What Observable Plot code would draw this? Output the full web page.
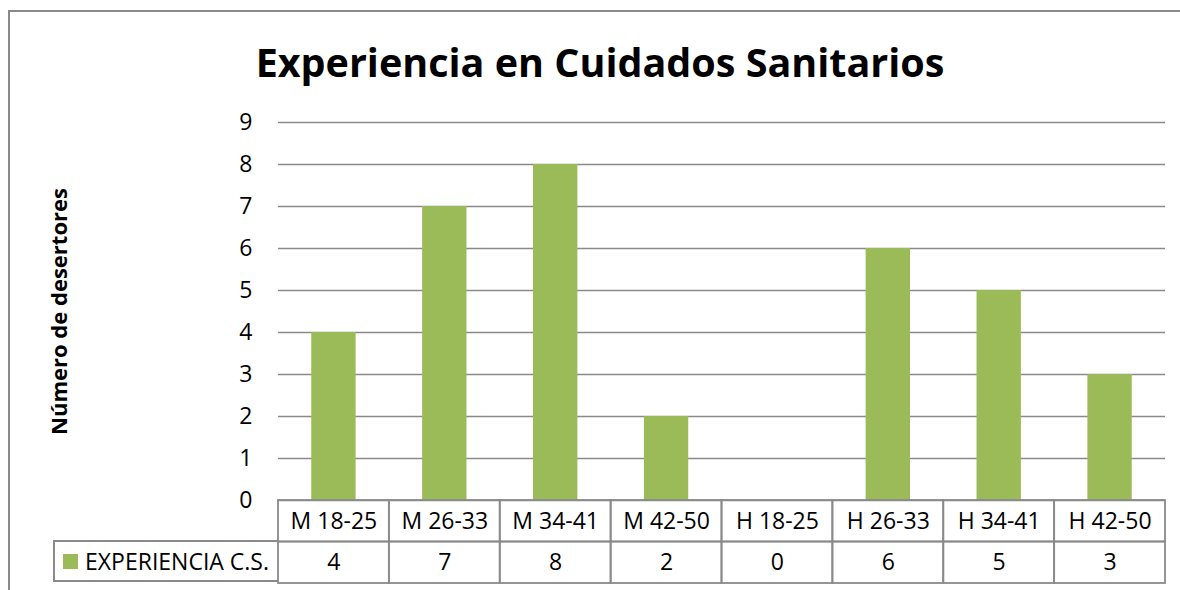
<!DOCTYPE html>
<html>
<head>
<meta charset="utf-8">
<script src="https://cdn.jsdelivr.net/npm/d3@7"></script>
<script src="https://cdn.jsdelivr.net/npm/@observablehq/plot@0.6"></script>
<style>
  html, body { margin: 0; padding: 0; background: #fff; }
  #root { position: relative; width: 1180px; height: 590px; overflow: hidden; font-family: "Open Sans", sans-serif; }
  #frame { position: absolute; left: 8px; top: 10px; width: 1200px; height: 600px; border-left: 2px solid #8a8a8a; border-top: 2px solid #8a8a8a; }
  #title { position: absolute; left: 0; width: 1200px; top: 32px; text-align: center; font-weight: 700; font-size: 39.5px; line-height: 60px; color: #000; }
  .abs { position: absolute; left: 0; }
  #legend { position: absolute; left: 53px; top: 540px; width: 225px; height: 42px; box-sizing: border-box; border: 2px solid #8a8a8a; border-right: none; display: flex; align-items: center; font-size: 23px; color: #000; }
  #legend .sw { width: 15px; height: 15px; margin-left: 8px; margin-right: 7px; }
</style>
</head>
<body>
<div id="root">
  <div id="frame"></div>
  <div id="title"></div>
  <div id="chart" class="abs" style="top:100px"></div>
  <div id="table" class="abs" style="top:499px"></div>
  <div id="legend"><div class="sw"></div><span id="legendText"></span></div>
</div>
<script>
const title = "Experiencia en Cuidados Sanitarios";
const yLabel = "Número de desertores";
const seriesName = "EXPERIENCIA C.S.";
const categories = ["M 18-25", "M 26-33", "M 34-41", "M 42-50", "H 18-25", "H 26-33", "H 34-41", "H 42-50"];
const values = [4, 7, 8, 2, 0, 6, 5, 3];
const yTicks = [0, 1, 2, 3, 4, 5, 6, 7, 8, 9];
const barColor = "#9BBB59";
const gridColor = "#8a8a8a";

const data = categories.map((c, i) => ({cat: c, value: values[i]}));

document.getElementById("title").textContent = title;
document.getElementById("legendText").textContent = seriesName;
document.querySelector("#legend .sw").style.background = barColor;

const chart = Plot.plot({
  width: 1180,
  height: 420,
  marginLeft: 278,
  marginRight: 15,
  marginTop: 22,
  marginBottom: 20,
  style: {background: "transparent", fontFamily: "Open Sans, sans-serif", fontSize: "23px", color: "#000", overflow: "visible"},
  x: {domain: categories, paddingInner: 0.6, paddingOuter: 0.3, round: false, axis: null},
  y: {domain: [0, 9], ticks: yTicks, axis: null},
  marks: [
    Plot.gridY(yTicks, {stroke: gridColor, strokeOpacity: 1, strokeWidth: 1.6}),
    Plot.axisY(yTicks, {tickSize: 0, tickPadding: 26, label: null, fontSize: 23, fill: "#000"}),
    Plot.ruleX([0], {frameAnchor: "left", y1: 0, y2: 9, stroke: gridColor, strokeWidth: 1.6}),
    Plot.barY(data, {x: "cat", y: "value", fill: barColor}),
    Plot.text([yLabel], {frameAnchor: "left", dx: -219, rotate: -90, textAnchor: "middle", fontWeight: "bold", fontSize: 22, fill: "#000"})
  ]
});
document.getElementById("chart").appendChild(chart);

const tableData = [];
categories.forEach((c, i) => {
  tableData.push({cat: c, row: "cat", text: c});
  tableData.push({cat: c, row: "val", text: String(values[i])});
});

const table = Plot.plot({
  width: 1180,
  height: 86,
  marginLeft: 278,
  marginRight: 15,
  marginTop: 1,
  marginBottom: 2,
  style: {background: "transparent", fontFamily: "Open Sans, sans-serif", fontSize: "23px", color: "#000"},
  x: {domain: categories, padding: 0, round: false, axis: null},
  y: {domain: ["cat", "val"], padding: 0, round: false, axis: null},
  marks: [
    Plot.cell(tableData, {x: "cat", y: "row", fill: "none", stroke: gridColor, strokeWidth: 1.8, inset: 0}),
    Plot.text(tableData, {x: "cat", y: "row", text: "text", fontSize: 23, fill: "#000"})
  ]
});
document.getElementById("table").appendChild(table);
</script>
</body>
</html>
